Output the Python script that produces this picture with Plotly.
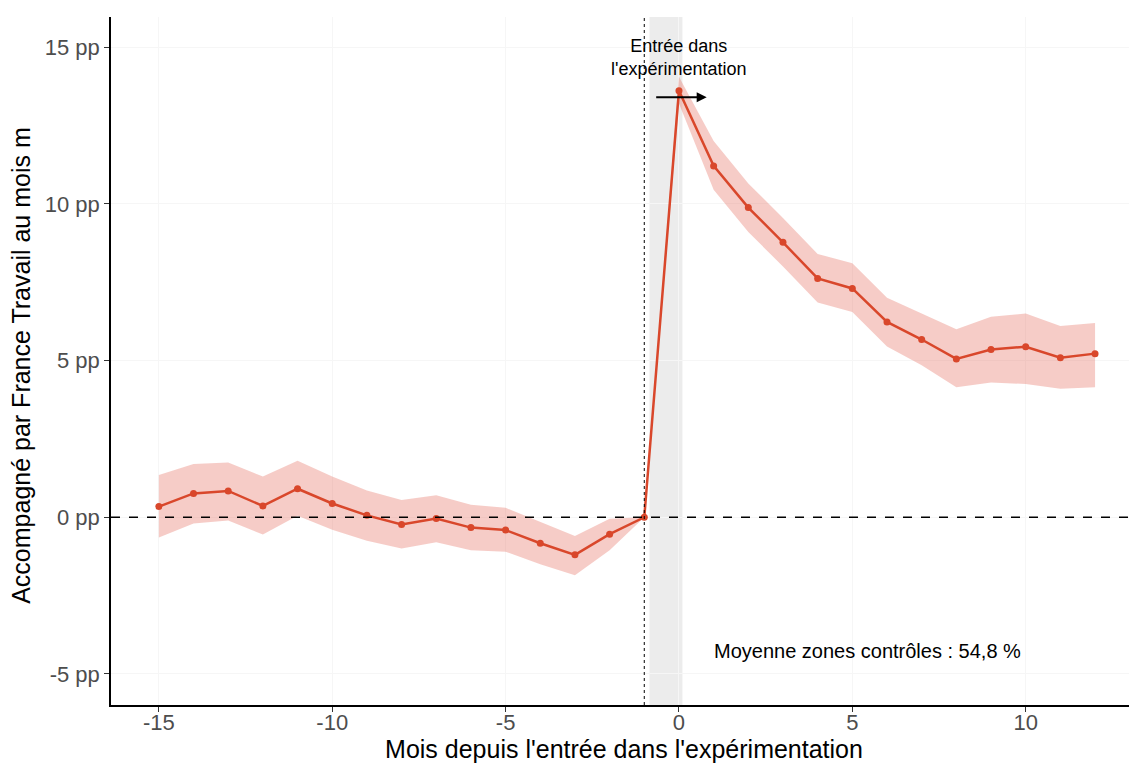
import plotly.graph_objects as go

months = [-15, -14, -13, -12, -11, -10, -9, -8, -7, -6, -5, -4, -3, -2, -1,
          0, 1, 2, 3, 4, 5, 6, 7, 8, 9, 10, 11, 12]
estimate = [0.34, 0.76, 0.84, 0.36, 0.91, 0.44, 0.06, -0.23, -0.04, -0.33, -0.41, -0.83, -1.20, -0.54, 0.0,
            13.61, 11.21, 9.88, 8.77, 7.62, 7.30, 6.23, 5.67, 5.05, 5.35, 5.44, 5.09, 5.22]
ci_low = [-0.65, -0.20, -0.10, -0.55, 0.05, -0.40, -0.75, -1.00, -0.80, -1.05, -1.10, -1.50, -1.85, -1.05, 0.0,
          13.20, 10.45, 9.10, 8.00, 6.85, 6.55, 5.45, 4.85, 4.15, 4.30, 4.25, 4.10, 4.15]
ci_high = [1.35, 1.70, 1.75, 1.30, 1.80, 1.30, 0.85, 0.55, 0.70, 0.40, 0.30, -0.15, -0.60, -0.05, 0.0,
           14.05, 12.00, 10.65, 9.55, 8.40, 8.10, 7.00, 6.50, 6.00, 6.40, 6.50, 6.10, 6.20]

x_ticks = [-15, -10, -5, 0, 5, 10]
x_ticktext = ["-15", "-10", "-5", "0", "5", "10"]
y_ticks = [-5, 0, 5, 10, 15]
y_ticktext = ["-5 pp", "0 pp", "5 pp", "10 pp", "15 pp"]

line_color = "#d9472b"
band_color = "rgba(232,120,108,0.38)"
font_family = "Liberation Sans, Arial"

fig = go.Figure()

# grey shaded entry window
fig.add_shape(type="rect", xref="x", yref="paper", x0=-0.85, x1=0.1, y0=0, y1=1,
              fillcolor="#ececec", line_width=0, layer="below")

fig.add_trace(go.Scatter(x=months + months[::-1], y=ci_high + ci_low[::-1],
                         fill="toself", fillcolor=band_color, line=dict(width=0),
                         hoverinfo="skip", showlegend=False, mode="lines"))
fig.add_trace(go.Scatter(x=months, y=estimate, mode="lines+markers",
                         line=dict(color=line_color, width=2.5),
                         marker=dict(color=line_color, size=7), showlegend=False))

fig.add_hline(y=0, line=dict(color="black", width=1.5, dash="dash"))
fig.add_vline(x=-1, line=dict(color="black", width=1, dash="dot"))

fig.add_annotation(x=0, y=14.68, text="Entrée dans<br>l'expérimentation", showarrow=False,
                   font=dict(family=font_family, size=18, color="black"),
                   xanchor="center", yanchor="middle")
fig.add_annotation(x=0.8, y=13.4, ax=-0.7, ay=13.4, xref="x", yref="y", axref="x", ayref="y",
                   text="", showarrow=True, arrowhead=2, arrowsize=1, arrowwidth=2, arrowcolor="black")
fig.add_annotation(x=5.45, y=-4.27, text="Moyenne zones contrôles : 54,8 %", showarrow=False,
                   font=dict(family=font_family, size=20, color="black"))

# y-axis title (placed as a rotated annotation to match the reference's position)
fig.add_annotation(xref="paper", yref="paper", x=-0.0877, y=0.493,
                   text="Accompagné par France Travail au mois m", textangle=-90,
                   showarrow=False, xanchor="center", yanchor="middle",
                   font=dict(family=font_family, size=25, color="black"))

# page body has an 8px default margin, so the figure is offset by 8px
fig.update_layout(
    width=1129, height=755,
    margin=dict(l=103, r=0, t=9, b=58, autoexpand=False),
    plot_bgcolor="white", paper_bgcolor="white",
    font=dict(family=font_family, color="black"),
)
fig.update_xaxes(range=[-16.38, 13.21], tickvals=x_ticks, ticktext=x_ticktext,
                 showgrid=True, gridcolor="#f6f6f6", zeroline=False, automargin=False,
                 showline=True, linecolor="black", linewidth=1.5,
                 ticks="outside", ticklen=5, tickcolor="#333333", ticklabelstandoff=-8,
                 tickfont=dict(size=22, color="#4d4d4d"),
                 title=dict(text="Mois depuis l'entrée dans l'expérimentation",
                            font=dict(size=25, color="black"), standoff=0))
fig.update_yaxes(range=[-5.99, 15.96], tickvals=y_ticks, ticktext=y_ticktext,
                 showgrid=True, gridcolor="#f6f6f6", zeroline=False, automargin=False,
                 showline=True, linecolor="black", linewidth=1.5,
                 ticks="outside", ticklen=5, tickcolor="#333333",
                 tickfont=dict(size=22, color="#4d4d4d"))

fig.write_html("out.html")
